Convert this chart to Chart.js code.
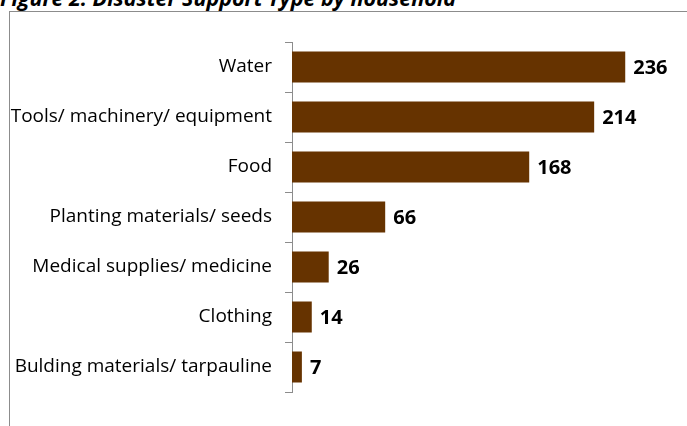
<!DOCTYPE html>
<html>
<head>
<meta charset="utf-8">
<script src="https://cdn.jsdelivr.net/npm/chart.js@4.4.1/dist/chart.umd.min.js"></script>
<style>
  html, body { margin: 0; padding: 0; background: #fff; }
  #wrap { position: relative; width: 687px; height: 426px; overflow: hidden; }
  #frame { position: absolute; left: 9px; top: 11px; width: 800px; height: 600px; border: 1px solid #8c8c8c; }
  #title { position: absolute; left: 0; top: -15px; font: italic bold 21.5px/26px "Open Sans", sans-serif; color: #000; white-space: nowrap; }
  #box { position: absolute; left: 0; top: 0; width: 687px; height: 426px; }
</style>
</head>
<body>
<div id="wrap">
  <div id="frame"></div>
  <div id="title">Figure 2: Disaster Support Type by household</div>
  <div id="box"><canvas id="supportChart"></canvas></div>
</div>
<script>
'use strict'

// support types, top to bottom
const supportTypes = [
  'Water',
  'Tools/ machinery/ equipment',
  'Food',
  'Planting materials/ seeds',
  'Medical supplies/ medicine',
  'Clothing',
  'Bulding materials/ tarpauline'
];
// households receiving each type
const households = [236, 214, 168, 66, 26, 14, 7];

const barColor = '#663300';
const axisColor = '#8c8c8c';

// writes the count just past the end of each bar
const valueLabels = {
  id: 'valueLabels',
  afterDatasetsDraw(chart) {
    const ctx = chart.ctx;
    const meta = chart.getDatasetMeta(0);
    ctx.save();
    ctx.font = 'bold 20px "Open Sans", sans-serif';
    ctx.fillStyle = '#000';
    ctx.textAlign = 'left';
    ctx.textBaseline = 'middle';
    meta.data.forEach(function(bar, i) {
      ctx.fillText(String(households[i]), bar.x + 8, bar.y + 1);
    });
    ctx.restore();
  }
};

const ctx = document.getElementById('supportChart').getContext('2d');
const supportChart = new Chart(ctx, {
  type: 'bar',
  data: {
    labels: supportTypes,
    datasets: [{
      data: households,
      backgroundColor: barColor,
      borderWidth: 0,
      barPercentage: 0.62,
      categoryPercentage: 1
    }]
  },
  options: {
    indexAxis: 'y',
    responsive: true,
    maintainAspectRatio: false,
    animation: false,
    layout: { padding: { left: 0, right: 42, top: 42, bottom: 34 } },
    plugins: {
      legend: { display: false },
      tooltip: { enabled: false }
    },
    scales: {
      x: { display: false, min: 0, max: 250 },
      y: {
        afterFit: function(scale) { scale.width = 292; },
        border: { display: true, color: axisColor, width: 1 },
        grid: { drawOnChartArea: false, drawTicks: true, tickLength: 7, color: axisColor, offset: true },
        ticks: { color: '#000', padding: 13, font: { family: '"Open Sans", sans-serif', size: 19 } }
      }
    }
  },
  plugins: [valueLabels]
});
</script>
</body>
</html>
